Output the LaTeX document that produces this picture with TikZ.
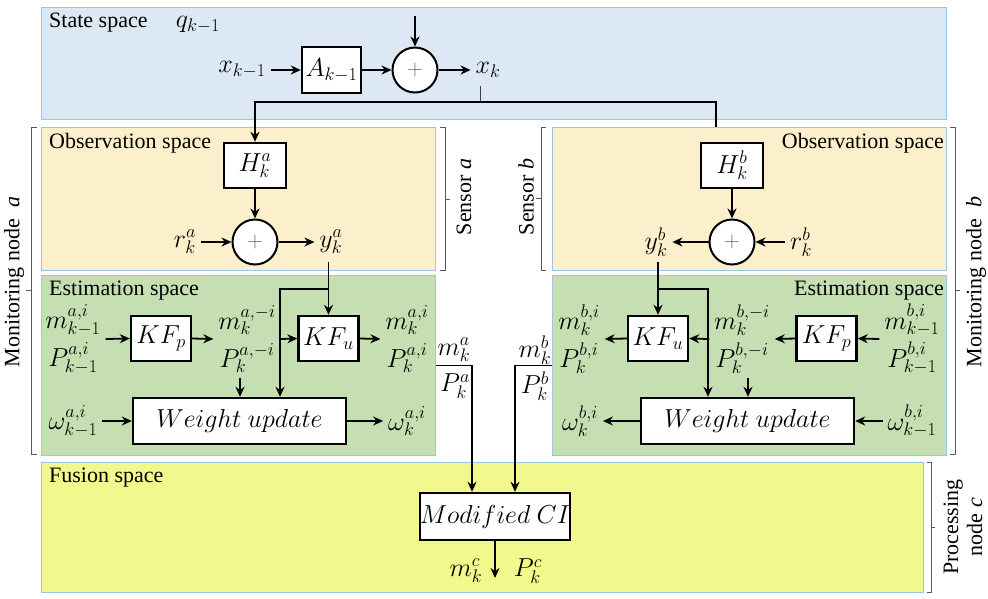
\documentclass[tikz,border=0pt]{standalone}
\usepackage{fix-cm}
\usepackage{fontspec}
\setmainfont{Liberation Serif}
\usetikzlibrary{arrows.meta,calc}
\definecolor{cS}{HTML}{DDE8F5}
\definecolor{cO}{HTML}{FCEFCB}
\definecolor{cE}{HTML}{C5DFB3}
\definecolor{cF}{HTML}{F2F88B}
\definecolor{cB}{HTML}{9DC3E6}
\newcommand\myfs{\fontsize{22}{30}\selectfont}
\newcommand\mymfs{\fontsize{26}{32}\selectfont}
\tikzset{
  spc/.style={draw=cB, line width=1pt, inner sep=0pt, anchor=north west},
  blk/.style={draw, line width=2.4pt, fill=white, inner sep=0pt, font=\mymfs},
  sumc/.style={circle, draw, line width=2pt, fill=white, inner sep=0pt, minimum size=45pt, font=\myfs, text=black!60},
  lbl/.style={inner sep=1pt, outer sep=4pt, font=\mymfs},
  stk/.style={inner sep=1pt, outer sep=4pt, font=\fontsize{26}{38}\selectfont, align=center},
  txt/.style={inner sep=0pt, font=\myfs},
  conn/.style={line width=1.8pt, -{Stealth[length=10pt,width=9pt]}},
  thinw/.style={line width=0.9pt, draw=black!75},
  brk/.style={line width=0.8pt, draw=black!65}
}
\begin{document}
\begin{tikzpicture}[x=1pt,y=-1pt]
\useasboundingbox (0,0) rectangle (988,598);
% background spaces
\node[spc, fill=cS, minimum width=905pt, minimum height=112pt] (S) at (41,7) {};
\node[spc, fill=cO, minimum width=394pt, minimum height=143pt] (Oa) at (41,127) {};
\node[spc, fill=cO, minimum width=394pt, minimum height=143pt] (Ob) at (552,127) {};
\node[spc, fill=cE, minimum width=394pt, minimum height=180pt] (Ea) at (41,275) {};
\node[spc, fill=cE, minimum width=394pt, minimum height=180pt] (Eb) at (552,275) {};
\node[spc, fill=cF, minimum width=882pt, minimum height=130pt] (F) at (41,462) {};
% space titles
\node[txt, anchor=west] (tS) at (49,23) {State space};
\node[lbl] (q) at (198,25) {$q_{k-1}$};
\node[txt, anchor=west] (tOa) at (49,143) {Observation space};
\node[txt, anchor=east] (tOb) at (944,143) {Observation space};
\node[txt, anchor=west] (tEa) at (49,291) {Estimation space};
\node[txt, anchor=east] (tEb) at (944,291) {Estimation space};
\node[txt, anchor=west] (tF) at (49,478) {Fusion space};
% state space
\node[lbl] (xkm1) at (242,70) {$x_{k-1}$};
\node[blk, minimum width=59pt, minimum height=46pt] (A) at (331.5,70) {$A_{k-1}$};
\node[sumc] (sumS) at (415,70) {$+$};
\node[lbl] (xk) at (488,70) {$x_k$};
\coordinate (qin) at (415,16);
\coordinate (xkb) at (480,86);
\coordinate (xd) at (480,102);
\coordinate (tb) at (716,102);
% observation a
\node[blk, minimum width=62pt, minimum height=45pt] (Ha) at (255,165.5) {$H^a_k$};
\node[sumc] (suma) at (255,242) {$+$};
\node[lbl] (rka) at (185,242) {$r^a_k$};
\node[lbl] (yka) at (331,242) {$y^a_k$};
% observation b
\node[blk, minimum width=62pt, minimum height=45pt] (Hb) at (732,165.5) {$H^b_k$};
\node[sumc] (sumb) at (732,242) {$+$};
\node[lbl] (rkb) at (801,242) {$r^b_k$};
\node[lbl] (ykb) at (656,242) {$y^b_k$};
% estimation a
\node[stk] (mPa0) at (73,339) {$m^{a,i}_{k-1}$\\$P^{a,i}_{k-1}$};
\node[blk, minimum width=60pt, minimum height=45pt] (KFpa) at (161,338.5) {$KF_p$};
\node[stk] (mPam) at (247,339) {$m^{a,-i}_k$\\$P^{a,-i}_k$};
\node[blk, minimum width=60pt, minimum height=45pt] (KFua) at (328.5,338.5) {$KF_u$};
\node[stk] (mPa1) at (407,339) {$m^{a,i}_k$\\$P^{a,i}_k$};
\node[blk, minimum width=213pt, minimum height=46pt] (WUa) at (239.5,421) {$Weight\ update$};
\node[lbl] (wa0) at (73,421) {$\omega^{a,i}_{k-1}$};
\node[lbl] (wa1) at (407,421) {$\omega^{a,i}_k$};
\coordinate (ya) at (328.5,262);
\coordinate (yab) at (280,289);
% estimation b
\node[stk] (mPb0) at (912,339) {$m^{b,i}_{k-1}$\\$P^{b,i}_{k-1}$};
\node[blk, minimum width=60pt, minimum height=45pt] (KFpb) at (826.5,338.5) {$KF_p$};
\node[stk] (mPbm) at (742,339) {$m^{b,-i}_k$\\$P^{b,-i}_k$};
\node[blk, minimum width=60pt, minimum height=45pt] (KFub) at (658,338.5) {$KF_u$};
\node[stk] (mPb1) at (579,339) {$m^{b,i}_k$\\$P^{b,i}_k$};
\node[blk, minimum width=213pt, minimum height=46pt] (WUb) at (747.5,421) {$Weight\ update$};
\node[lbl] (wb0) at (912,421) {$\omega^{b,i}_{k-1}$};
\node[lbl] (wb1) at (580,421) {$\omega^{b,i}_k$};
\coordinate (yb) at (658,262);
\coordinate (ybb) at (708,289);
% outputs of monitoring nodes
\node[lbl] (mka) at (454,350) {$m^a_k$};
\node[lbl] (Pka) at (455,386) {$P^a_k$};
\node[lbl] (mkb) at (535,350) {$m^b_k$};
\node[lbl] (Pkb) at (535,386) {$P^b_k$};
% fusion
\node[blk, minimum width=150pt, minimum height=47pt] (MCI) at (495,516.5) {$Modified\ CI$};
\node[lbl] (mkc) at (466,571) {$m^c_k$};
\node[lbl] (Pkc) at (528,571) {$P^c_k$};
\coordinate (cout) at (495,578);
% side labels
\node[txt, rotate=90] (mona) at (14,282) {Monitoring node\ \ \textit{a}};
\node[txt, rotate=90] (monb) at (976,282) {Monitoring node\ \ \textit{b}};
\node[txt, rotate=90] (sena) at (464,197) {Sensor \textit{a}};
\node[txt, rotate=90] (senb) at (526,197) {Sensor \textit{b}};
\node[txt, rotate=90, align=center, font=\fontsize{22}{24}\selectfont] (proc) at (963,527) {Processing\\node \textit{c}};
% brackets
\draw[brk] (37,127) -- (31,127) -- (31,454) -- (37,454) (31,290) -- (26,290);
\draw[brk] (440,127) -- (445,127) -- (445,270) -- (440,270) (445,199) -- (450,199);
\draw[brk] (546,127) -- (541,127) -- (541,270) -- (546,270) (541,198) -- (536,198);
\draw[brk] (950,127) -- (955,127) -- (955,454) -- (950,454) (955,290) -- (960,290);
\draw[brk] (927,462) -- (931,462) -- (931,592) -- (927,592) (931,527) -- (935,527);
% state connectors
\draw[conn] (xkm1.east) -- (A.west);
\draw[conn] (A.east) -- (sumS.west);
\draw[conn] (sumS.east) -- (xk.west);
\draw[conn] (qin) -- (sumS.north);
\draw[thinw] (xkb) -- (xd);
\draw[conn] (tb |- Ob.north) -- (tb) -- (Ha.north |- tb) -- (Ha.north);
% observation connectors
\draw[conn] (Ha.south) -- (suma.north);
\draw[conn] (rka.east) -- (suma.west);
\draw[conn] (suma.east) -- (yka.west);
\draw[conn] (Hb.south) -- (sumb.north);
\draw[conn] (rkb.west) -- (sumb.east);
\draw[conn] (sumb.west) -- (ykb.east);
% estimation a connectors
\draw[conn] (mPa0.east) -- (KFpa.west);
\draw[conn] (KFpa.east) -- (mPam.west);
\draw[conn] (mPam.east) -- (KFua.west);
\draw[conn] (KFua.east) -- (mPa1.west);
\draw[conn] (wa0.east) -- (WUa.west);
\draw[conn] (WUa.east) -- (wa1.west);
\draw[conn] ([xshift=-7pt]mPam.south) -- ([xshift=-7pt]mPam.south |- WUa.north);
\draw[conn] (ya) -- (KFua.north);
\draw[conn] (KFua.north |- yab) -- (yab) -- (yab |- WUa.north);
% estimation b connectors
\draw[conn] (mPb0.west) -- (KFpb.east);
\draw[conn] (KFpb.west) -- (mPbm.east);
\draw[conn] (mPbm.west) -- (KFub.east);
\draw[conn] (KFub.west) -- (mPb1.east);
\draw[conn] (wb0.west) -- (WUb.east);
\draw[conn] (WUb.west) -- (wb1.east);
\draw[conn] ([xshift=6pt]mPbm.south) -- ([xshift=6pt]mPbm.south |- WUb.north);
\draw[conn] (yb) -- (KFub.north);
\draw[conn] (KFub.north |- ybb) -- (ybb) -- (ybb |- WUb.north);
% to fusion
\draw[conn] (Ea.east) -| ([xshift=-23pt]MCI.north);
\draw[conn] (Eb.west) -| ([xshift=20pt]MCI.north);
\draw[conn] (MCI.south) -- (cout);
\end{tikzpicture}
\end{document}
